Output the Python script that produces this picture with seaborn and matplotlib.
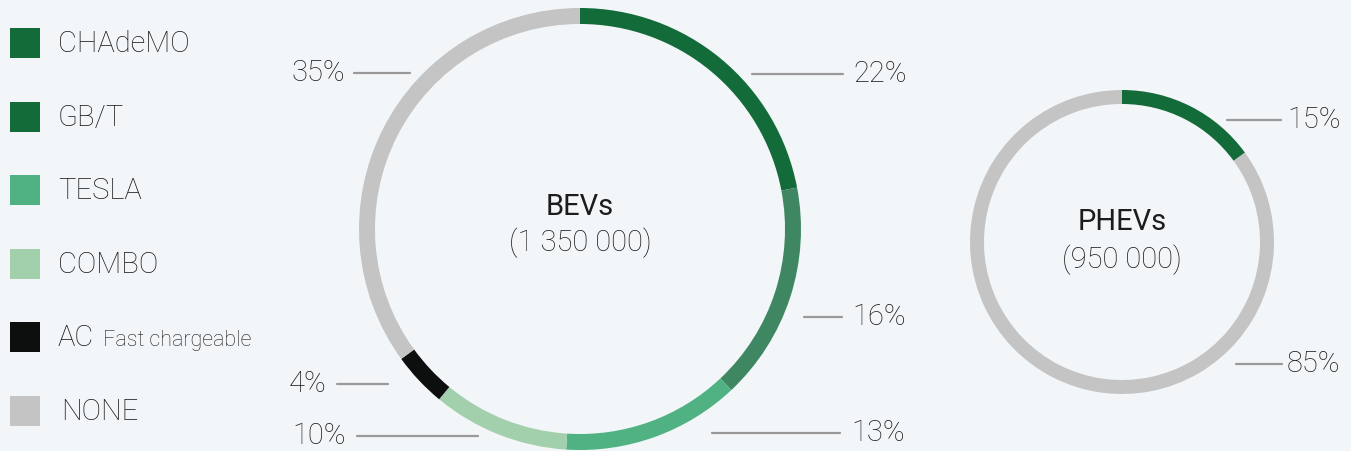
import matplotlib
matplotlib.use("Agg")
import matplotlib.pyplot as plt
import seaborn as sns

# --- DATA ---
connectors = ["CHAdeMO", "GB/T", "TESLA", "COMBO", "AC", "NONE"]
legend_colors = ["#136b3a", "#136b3a", "#50b282", "#a2cfac", "#0d0f0e", "#c4c4c4"]
bev_share = [22, 16, 13, 10, 4, 35]
bev_colors = ["#136b3a", "#3f8762", "#50b282", "#a2cfac", "#0d0f0e", "#c4c4c4"]
phev_share = [15, 85]
phev_colors = ["#136b3a", "#c4c4c4"]
bev_title, bev_count = "BEVs", "(1 350 000)"
phev_title, phev_count = "PHEVs", "(950 000)"

BG = "#f3f6f9"
INK = "#1c1c1c"
W, H = 1351, 451

sns.set_theme(style="white", rc={"figure.facecolor": BG, "axes.facecolor": BG})
plt.rcParams["font.family"] = ["Roboto", "DejaVu Sans"]

fig = plt.figure(figsize=(W / 100, H / 100), dpi=100)
ax = fig.add_axes([0, 0, 1, 1])


def py(y):
    return H - y


# --- DONUTS ---
ax.pie(bev_share, colors=bev_colors, startangle=90, counterclock=False,
       center=(580, py(229)), radius=221,
       wedgeprops=dict(width=16, linewidth=0))
ax.pie(phev_share, colors=phev_colors, startangle=90, counterclock=False,
       center=(1122, py(242)), radius=152,
       wedgeprops=dict(width=14, linewidth=0))
ax.set_xlim(0, W)
ax.set_ylim(0, H)
ax.set_aspect("equal")
ax.axis("off")

txt = dict(color=INK, ha="center", va="center", fontsize=21)
ax.text(580, py(207), bev_title, fontweight="normal", **txt)
ax.text(580, py(243), bev_count, fontweight="light", **txt)
ax.text(1122, py(222), phev_title, fontweight="normal", **txt)
ax.text(1122, py(260), phev_count, fontweight="light", **txt)

# --- PERCENT LABELS WITH LEADER LINES ---
# (line x0, line x1, y, text x, ha)
bev_label_pos = [(752, 843, 74, 853, "left"),
                 (804, 842, 317, 852, "left"),
                 (712, 840, 433, 851, "left"),
                 (357, 478, 436, 346, "right"),
                 (337, 388, 384, 327, "right"),
                 (354, 410, 73, 345, "right")]
for val, (x0, x1, y, tx, ha) in zip(bev_share, bev_label_pos):
    ax.plot([x0, x1], [py(y), py(y)], color="#999999", lw=1.6)
    ax.text(tx, py(y), f"{val}%", fontsize=21, color=INK,
            fontweight="light", ha=ha, va="center")

phev_label_pos = [(1227, 1281, 120, 1287, "left"),
                  (1236, 1282, 364, 1287, "left")]
for val, (x0, x1, y, tx, ha) in zip(phev_share, phev_label_pos):
    ax.plot([x0, x1], [py(y), py(y)], color="#999999", lw=1.6)
    ax.text(tx, py(y), f"{val}%", fontsize=21, color=INK,
            fontweight="light", ha=ha, va="center")

# --- LEGEND ---
for i, (name, col) in enumerate(zip(connectors, legend_colors)):
    y = 43 + 73.6 * i
    ax.scatter([24.5], [py(y)], marker="s", s=29 ** 2 * 0.52, color=col, linewidths=0)
    x_text = 61 if name == "NONE" else 58
    ax.text(x_text, py(y + 1), name, fontsize=21, color=INK,
            fontweight="light", ha="left", va="center")
    if name == "AC":
        ax.text(103, py(y + 3), "Fast chargeable", fontsize=15.5, color=INK,
                fontweight="light", ha="left", va="center")

fig.savefig("out.png", dpi=100, facecolor=BG)
